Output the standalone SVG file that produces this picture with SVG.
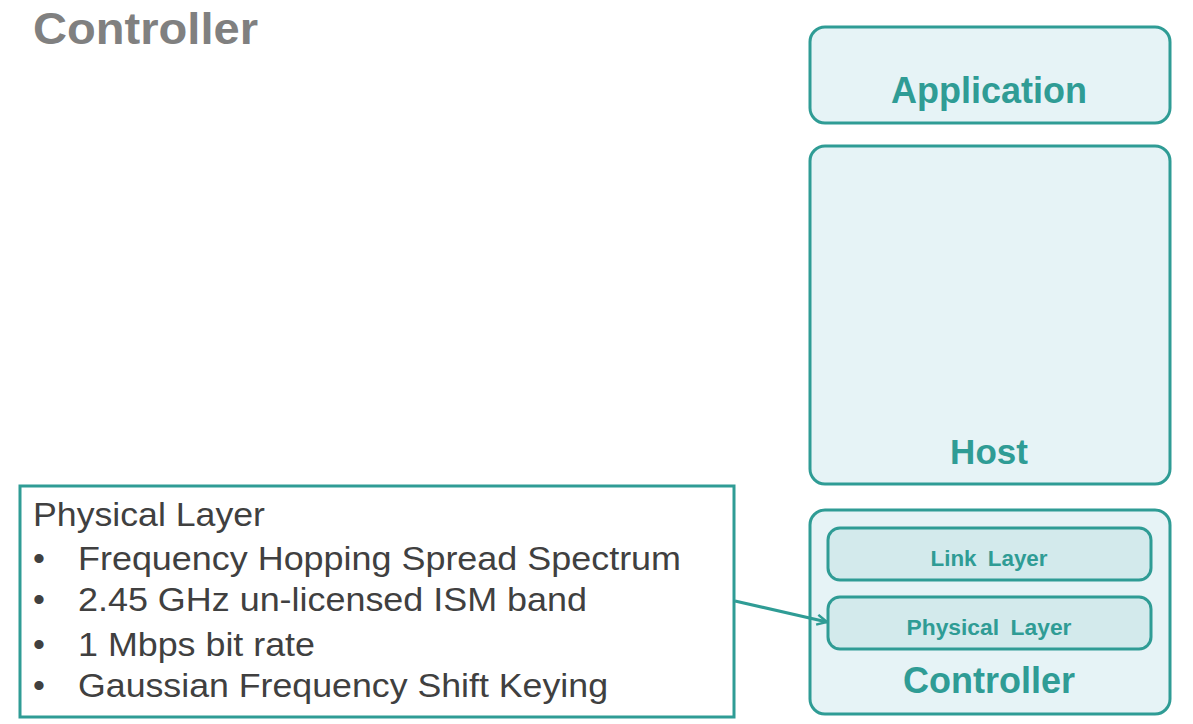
<svg xmlns="http://www.w3.org/2000/svg" width="1193" height="724" viewBox="0 0 1193 724">
<style>
.layer{fill:#e6f3f6;stroke:#2f9c95;stroke-width:3}
.sub{fill:#d3eaec;stroke:#2f9c95;stroke-width:3}
.lbl{font-family:"Liberation Sans",Arial,sans-serif;font-weight:bold;fill:#2f9c95;text-anchor:middle}
.txt{font-family:"Liberation Sans",Arial,sans-serif;fill:#404040;font-size:34px}
</style>
<defs>
<marker id="arr" viewBox="0 0 12 12" refX="11" refY="6" markerWidth="12" markerHeight="12" markerUnits="userSpaceOnUse" orient="auto">
<path d="M1,1 L11,6 L1,11" fill="none" stroke="#2f9c95" stroke-width="2.5"/>
</marker>
</defs>
<rect width="1193" height="724" fill="#ffffff"/>
<text x="33" y="44" font-family="Liberation Sans,Arial,sans-serif" font-weight="bold" font-size="44" fill="#808080" textLength="225" lengthAdjust="spacingAndGlyphs">Controller</text>
<g id="application">
<rect class="layer" x="810" y="27" width="360" height="96" rx="15"/>
<text class="lbl" x="989" y="103" font-size="36">Application</text>
</g>
<g id="host">
<rect class="layer" x="810" y="146" width="360" height="338" rx="15"/>
<text class="lbl" x="989" y="464" font-size="35">Host</text>
</g>
<g id="controller">
<rect class="layer" x="810" y="510" width="360" height="204" rx="15"/>
<text class="lbl" x="989" y="693" font-size="36">Controller</text>
</g>
<g id="link-layer">
<rect class="sub" x="828" y="528" width="323" height="52" rx="12"/>
<text class="lbl" x="989" y="566" font-size="22" word-spacing="5" textLength="117" lengthAdjust="spacingAndGlyphs">Link Layer</text>
</g>
<g id="physical-layer">
<rect class="sub" x="828" y="597" width="323" height="52" rx="12"/>
<text class="lbl" x="989" y="635" font-size="22" word-spacing="5" textLength="165" lengthAdjust="spacingAndGlyphs">Physical Layer</text>
</g>
<g id="physical-notes">
<rect x="20" y="486" width="714" height="231" fill="#ffffff" stroke="#2f9c95" stroke-width="3"/>
<text class="txt" x="33" y="526" textLength="232" lengthAdjust="spacingAndGlyphs">Physical Layer</text>
<text class="txt" x="33" y="570">•</text>
<text class="txt" x="78" y="570" textLength="603" lengthAdjust="spacingAndGlyphs">Frequency Hopping Spread Spectrum</text>
<text class="txt" x="33" y="611">•</text>
<text class="txt" x="78" y="611" textLength="509" lengthAdjust="spacingAndGlyphs">2.45 GHz un-licensed ISM band</text>
<text class="txt" x="33" y="656">•</text>
<text class="txt" x="78" y="656" textLength="237" lengthAdjust="spacingAndGlyphs">1 Mbps bit rate</text>
<text class="txt" x="33" y="697">•</text>
<text class="txt" x="78" y="697" textLength="530" lengthAdjust="spacingAndGlyphs">Gaussian Frequency Shift Keying</text>
</g>
<g id="connectors">
<line x1="735" y1="601" x2="827" y2="622" stroke="#2f9c95" stroke-width="3" marker-end="url(#arr)"/>
</g>
</svg>
